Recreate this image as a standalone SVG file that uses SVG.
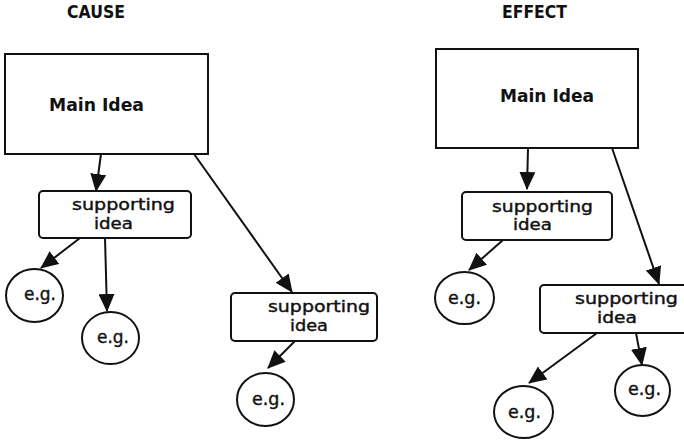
<svg xmlns="http://www.w3.org/2000/svg" width="684" height="442" viewBox="0 0 684 442">
<defs>
<style>
.box{fill:#fff;stroke:#111;stroke-width:2}
.ell{fill:#fff;stroke:#111;stroke-width:2}
.title{font-family:"DejaVu Sans",sans-serif;font-weight:bold;font-size:17px;fill:#111}
.main{font-family:"DejaVu Sans",sans-serif;font-weight:bold;font-size:18px;fill:#111}
.sup{font-family:"DejaVu Sans",sans-serif;font-size:15.5px;fill:#111;stroke:#111;stroke-width:0.4}
.eg{font-family:"DejaVu Sans",sans-serif;font-size:18px;fill:#111;stroke:#111;stroke-width:0.4}
.con line{stroke:#111;stroke-width:2;marker-end:url(#ah)}
</style>
<marker id="ah" markerUnits="userSpaceOnUse" markerWidth="18" markerHeight="16" viewBox="0 0 18 16" refX="17" refY="8" orient="auto">
<path d="M0,0 L18,8 L0,16 z" fill="#111"/>
</marker>
</defs>
<rect width="684" height="442" fill="#fff"/>
<text class="title" x="67" y="18" textLength="58" lengthAdjust="spacingAndGlyphs">CAUSE</text>
<text class="title" x="502" y="18" textLength="65" lengthAdjust="spacingAndGlyphs">EFFECT</text>

<g class="con">
<line x1="101" y1="154" x2="96" y2="191"/>
<line x1="194" y1="154" x2="292" y2="292"/>
<line x1="80" y1="238" x2="41" y2="268"/>
<line x1="105" y1="238" x2="107" y2="311"/>
<line x1="295" y1="341" x2="268" y2="368"/>
<line x1="528" y1="148" x2="527" y2="189"/>
<line x1="612" y1="148" x2="659" y2="284"/>
<line x1="503" y1="240" x2="469" y2="270"/>
<line x1="597" y1="333" x2="529" y2="383"/>
<line x1="636" y1="333" x2="642" y2="365"/>
</g>

<g id="cause-main">
<rect class="box" x="5" y="54" width="203" height="100"/>
<text class="main" x="49" y="111" textLength="95" lengthAdjust="spacingAndGlyphs">Main Idea</text>
</g>
<g id="cause-sup1">
<rect class="box" x="39" y="191" width="152" height="47" rx="4"/>
<text class="sup" x="72" y="210" textLength="103" lengthAdjust="spacingAndGlyphs">supporting</text>
<text class="sup" x="94" y="228.5" textLength="39" lengthAdjust="spacingAndGlyphs">idea</text>
</g>
<g id="cause-sup2">
<rect class="box" x="231" y="293" width="146" height="48" rx="4"/>
<text class="sup" x="268" y="312" textLength="102" lengthAdjust="spacingAndGlyphs">supporting</text>
<text class="sup" x="290" y="330.5" textLength="38" lengthAdjust="spacingAndGlyphs">idea</text>
</g>
<g id="cause-eg1">
<ellipse class="ell" cx="34.5" cy="295.5" rx="28.5" ry="26.5"/>
<text class="eg" x="24" y="300" textLength="32" lengthAdjust="spacingAndGlyphs">e.g.</text>
</g>
<g id="cause-eg2">
<ellipse class="ell" cx="110.5" cy="338" rx="28.5" ry="26"/>
<text class="eg" x="97" y="343" textLength="32" lengthAdjust="spacingAndGlyphs">e.g.</text>
</g>
<g id="cause-eg3">
<ellipse class="ell" cx="265.5" cy="399.5" rx="28.5" ry="26.5"/>
<text class="eg" x="252" y="405" textLength="33" lengthAdjust="spacingAndGlyphs">e.g.</text>
</g>

<g id="effect-main">
<rect class="box" x="436" y="49" width="202" height="99"/>
<text class="main" x="500" y="102" textLength="94" lengthAdjust="spacingAndGlyphs">Main Idea</text>
</g>
<g id="effect-sup1">
<rect class="box" x="462" y="192" width="150" height="48" rx="4"/>
<text class="sup" x="492" y="211.5" textLength="101" lengthAdjust="spacingAndGlyphs">supporting</text>
<text class="sup" x="513" y="230" textLength="39" lengthAdjust="spacingAndGlyphs">idea</text>
</g>
<g id="effect-sup2">
<rect class="box" x="540" y="285" width="160" height="48" rx="4"/>
<text class="sup" x="575" y="304" textLength="103" lengthAdjust="spacingAndGlyphs">supporting</text>
<text class="sup" x="597" y="322.5" textLength="40" lengthAdjust="spacingAndGlyphs">idea</text>
</g>
<g id="effect-eg1">
<ellipse class="ell" cx="464.5" cy="298" rx="29.5" ry="26"/>
<text class="eg" x="448" y="304" textLength="33" lengthAdjust="spacingAndGlyphs">e.g.</text>
</g>
<g id="effect-eg2">
<ellipse class="ell" cx="523.5" cy="412" rx="29.5" ry="26"/>
<text class="eg" x="508" y="418" textLength="33" lengthAdjust="spacingAndGlyphs">e.g.</text>
</g>
<g id="effect-eg3">
<ellipse class="ell" cx="642.5" cy="390.5" rx="27.5" ry="25.5"/>
<text class="eg" x="628" y="395" textLength="33" lengthAdjust="spacingAndGlyphs">e.g.</text>
</g>
</svg>
